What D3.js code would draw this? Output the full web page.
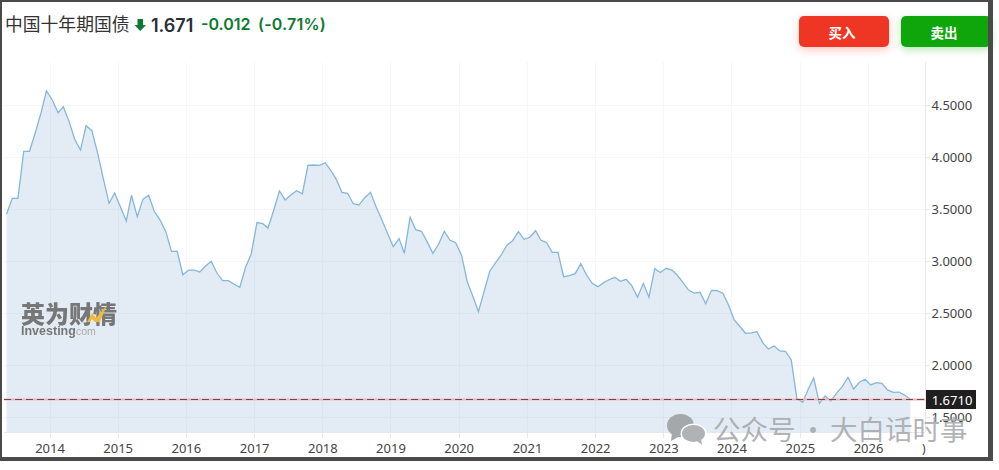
<!DOCTYPE html>
<html lang="zh-CN">
<head>
<meta charset="UTF-8">
<script src="https://d3js.org/d3.v7.min.js"></script>
<title>中国十年期国债</title>
<style>
  html, body { margin: 0; padding: 0; background: #fff; overflow: hidden; }
  svg { display: block; }
  .cn { font-family: "Noto Sans CJK SC", sans-serif; }
  .axis text { font-family: "Noto Sans", sans-serif; font-size: 13px; fill: #444; }
  .axis line, .axis path { stroke: #e6e8ec; fill: none; shape-rendering: crispEdges; }
</style>
</head>
<body>
<script>
var title = "中国十年期国债"
var lastPrice = "1.671"
var change = "-0.012"
var changePct = "(-0.71%)"
var buyLabel = "买入"
var sellLabel = "卖出"
var lastValue = 1.671
var firstMonth = new Date(2013, 4, 16)
var yearTicks = [2014, 2015, 2016, 2017, 2018, 2019, 2020, 2021, 2022, 2023, 2024, 2025, 2026]
var yTicks = [1.5, 2, 2.5, 3, 3.5, 4, 4.5]
// monthly yield
var values = [
  3.452, 3.603, 3.603, 4.055, 4.055, 4.228, 4.42, 4.635, 4.548, 4.426, 4.484, 4.34, 4.17, 4.067, 4.30, 4.253,
  4.035, 3.795, 3.555, 3.654, 3.52, 3.385, 3.632, 3.426, 3.593, 3.632, 3.478, 3.394, 3.282, 3.093, 3.093, 2.868,
  2.913, 2.913, 2.894, 2.952, 2.997, 2.882, 2.811, 2.811, 2.776, 2.747, 2.94, 3.067, 3.369, 3.359, 3.317, 3.49,
  3.673, 3.587, 3.635, 3.676, 3.647, 3.92, 3.923, 3.92, 3.945, 3.868, 3.788, 3.66, 3.651, 3.551, 3.538, 3.609,
  3.66, 3.522, 3.394, 3.266, 3.138, 3.215, 3.074, 3.42, 3.301, 3.286, 3.186, 3.074, 3.163, 3.286, 3.199, 3.176,
  3.058, 2.801, 2.666, 2.513, 2.705, 2.904, 2.981, 3.058, 3.154, 3.195, 3.282, 3.209, 3.228, 3.291, 3.202, 3.176,
  3.083, 3.083, 2.849, 2.859, 2.878, 2.974, 2.865, 2.785, 2.753, 2.792, 2.82, 2.843, 2.805, 2.824, 2.763, 2.651,
  2.785, 2.651, 2.926, 2.89, 2.93, 2.913, 2.865, 2.795, 2.721, 2.692, 2.699, 2.59, 2.718, 2.715, 2.69, 2.577,
  2.433, 2.368, 2.305, 2.308, 2.32, 2.215, 2.154, 2.183, 2.135, 2.132, 2.048, 1.68, 1.641, 1.772, 1.875, 1.632,
  1.702, 1.654, 1.728, 1.792, 1.882, 1.769, 1.834, 1.863, 1.808, 1.83, 1.824, 1.76, 1.737, 1.74, 1.711, 1.671
]

var width = 999
var height = 470
var plotTop = 62
var plotBottom = 432
var plotLeft = 4
var plotRight = 925

var svg = d3.select("body").append("svg")
  .attr("width", width)
  .attr("height", height)

var defs = svg.append("defs")
var blur = defs.append("filter").attr("id", "btnShadow")
  .attr("x", "-20%").attr("y", "-30%").attr("width", "140%").attr("height", "180%")
blur.append("feGaussianBlur").attr("stdDeviation", 4)
defs.append("filter").attr("id", "soft")
  .append("feGaussianBlur").attr("stdDeviation", 0.45)

var data = values.map(function (v, i) {
  return { date: d3.timeMonth.offset(firstMonth, i), value: v }
})

var xScale = d3.scaleTime()
  .domain([new Date(2014, 0, 1), new Date(2026, 0, 1)])
  .range([49.5, 868])
var yScale = d3.scaleLinear()
  .domain([1.5, 4.5])
  .range([417, 105])

// grid
svg.append("g").selectAll("line").data(yearTicks).enter().append("line")
  .attr("x1", function (d) { return Math.round(xScale(new Date(d, 0, 1))) + 0.5 })
  .attr("x2", function (d) { return Math.round(xScale(new Date(d, 0, 1))) + 0.5 })
  .attr("y1", plotTop).attr("y2", plotBottom)
  .attr("stroke", "#f6f7f8")
svg.append("g").selectAll("line").data(yTicks).enter().append("line")
  .attr("x1", plotLeft).attr("x2", plotRight)
  .attr("y1", function (d) { return Math.round(yScale(d)) + 0.5 })
  .attr("y2", function (d) { return Math.round(yScale(d)) + 0.5 })
  .attr("stroke", "#f6f7f8")

// area + line
var area = d3.area()
  .x(function (d) { return xScale(d.date) })
  .y0(plotBottom)
  .y1(function (d) { return yScale(d.value) })
var line = d3.line()
  .x(function (d) { return xScale(d.date) })
  .y(function (d) { return yScale(d.value) })

svg.append("path").datum(data)
  .attr("d", area)
  .attr("fill", "#5b8fc0")
  .attr("fill-opacity", 0.17)
svg.append("path").datum(data)
  .attr("d", line)
  .attr("fill", "none")
  .attr("stroke", "#85b6dc")
  .attr("stroke-width", 1.3)

// axes
var xAxis = d3.axisBottom(xScale)
  .tickValues(yearTicks.map(function (y) { return new Date(y, 0, 1) }))
  .tickFormat(d3.timeFormat("%Y"))
  .tickSize(5)
  .tickPadding(6)
var yAxis = d3.axisRight(yScale)
  .tickValues(yTicks)
  .tickFormat(d3.format(".4f"))
  .tickSize(4)
  .tickPadding(2)

var xAxisG = svg.append("g").attr("class", "axis")
  .attr("transform", "translate(0," + (plotBottom + 0.5) + ")")
  .call(xAxis)
xAxisG.select(".domain").attr("d", "M" + plotLeft + ",0H" + plotRight)

var yAxisG = svg.append("g").attr("class", "axis")
  .attr("transform", "translate(" + (plotRight + 0.5) + ",0)")
  .call(yAxis)
yAxisG.select(".domain").attr("d", "M0," + plotTop + "V" + plotBottom)

// cropped label at the far right of the time axis
svg.append("text")
  .attr("x", 922).attr("y", 453)
  .attr("font-family", "Noto Sans, sans-serif")
  .attr("font-size", 12)
  .attr("fill", "#444")
  .text(")")

// last price line
var lastY = Math.round(yScale(lastValue)) + 0.5
svg.append("line")
  .attr("x1", plotLeft).attr("x2", plotRight)
  .attr("y1", lastY).attr("y2", lastY)
  .attr("stroke", "#f3b4b8").attr("stroke-width", 2)
svg.append("line")
  .attr("x1", plotLeft).attr("x2", plotRight)
  .attr("y1", lastY).attr("y2", lastY)
  .attr("stroke", "#6e4a50").attr("stroke-width", 1)
  .attr("stroke-dasharray", "7,4")

svg.append("rect")
  .attr("x", 926).attr("y", lastY - 9.5).attr("width", 50).attr("height", 19)
  .attr("fill", "#1f1f1f")
svg.append("text")
  .attr("x", 952).attr("y", lastY + 5)
  .attr("text-anchor", "middle")
  .attr("font-family", "Noto Sans, sans-serif")
  .attr("font-size", 13)
  .attr("fill", "#fff")
  .text(d3.format(".4f")(lastValue))

// header
svg.append("text").attr("class", "cn")
  .attr("x", 5).attr("y", 31)
  .attr("font-size", 17.8)
  .attr("fill", "#333")
  .text(title)
svg.append("path")
  .attr("d", "M137.5,19H143V25H146L140.2,31L134.5,25H137.5Z")
  .attr("fill", "#0a7a2f")
svg.append("text")
  .attr("x", 151).attr("y", 32)
  .attr("font-family", "Inter, sans-serif")
  .attr("font-size", 18)
  .attr("font-weight", 600)
  .attr("fill", "#2a2e39")
  .text(lastPrice)
svg.append("text")
  .attr("x", 201).attr("y", 30)
  .attr("font-family", "Inter, sans-serif")
  .attr("font-size", 16)
  .attr("font-weight", 600)
  .attr("fill", "#0a7a2f")
  .text(change)
svg.append("text")
  .attr("x", 258).attr("y", 30)
  .attr("font-family", "Inter, sans-serif")
  .attr("font-size", 16)
  .attr("font-weight", 600)
  .attr("letter-spacing", 0.2)
  .attr("fill", "#0a7a2f")
  .text(changePct)

// buttons
function button(x, w, color, label) {
  svg.append("rect")
    .attr("x", x).attr("y", 19).attr("width", w).attr("height", 31).attr("rx", 5)
    .attr("fill", color).attr("fill-opacity", 0.28)
    .attr("filter", "url(#btnShadow)")
  svg.append("rect")
    .attr("x", x).attr("y", 16).attr("width", w).attr("height", 31).attr("rx", 5)
    .attr("fill", color)
  svg.append("text").attr("class", "cn")
    .attr("x", x + 43).attr("y", 38)
    .attr("text-anchor", "middle")
    .attr("font-size", 13.5)
    .attr("font-weight", 700)
    .attr("fill", "#fff")
    .text(label)
}
button(799, 90, "#ef3524", buyLabel)
button(901, 90, "#0ea60a", sellLabel)

// logo watermark
var logo = svg.append("g").attr("fill", "#777").attr("filter", "url(#soft)")
logo.append("text").attr("class", "cn")
  .attr("x", 21).attr("y", 323)
  .attr("font-size", 24)
  .attr("font-weight", 900)
  .attr("textLength", 96)
  .attr("lengthAdjust", "spacingAndGlyphs")
  .text("英为财情")
logo.append("path")
  .attr("d", "M87,322L92,313L96,318L107,305L100,322L95,322L92,319L90,322Z")
  .attr("fill", "#f0b93a")
logo.append("text")
  .attr("x", 21).attr("y", 335)
  .attr("font-family", "Liberation Sans, sans-serif")
  .attr("font-size", 12.5)
  .attr("font-weight", 700)
  .text("Investing")
logo.append("text")
  .attr("x", 73).attr("y", 335)
  .attr("font-family", "Liberation Sans, sans-serif")
  .attr("font-size", 10.5)
  .attr("fill", "#aaa")
  .text(".com")

// wechat watermark
var wm = svg.append("g")
wm.append("ellipse").attr("cx", 680.5).attr("cy", 425.5).attr("rx", 13.5).attr("ry", 11.5).attr("fill", "#a4a8ab")
wm.append("path").attr("d", "M672,433L671,441L680,436Z").attr("fill", "#a4a8ab")
wm.append("ellipse").attr("cx", 693.5).attr("cy", 433.5).attr("rx", 13).attr("ry", 10).attr("fill", "#fff")
wm.append("ellipse").attr("cx", 693.5).attr("cy", 433.5).attr("rx", 11.5).attr("ry", 8.5).attr("fill", "#b0b3b5")
wm.append("path").attr("d", "M697,441L702,445L701,438Z").attr("fill", "#b0b3b5")
var wmText = wm.append("g").attr("class", "cn")
  .attr("font-size", 27.5)
  .attr("fill", "#a6a9ac")
  .attr("fill-opacity", 0.9)
wmText.append("text").attr("x", 713).attr("y", 440).text("公众号")
wmText.append("text").attr("x", 813).attr("y", 440).attr("text-anchor", "middle").text("·")
wmText.append("text").attr("x", 830).attr("y", 440).text("大白话时事")

// screenshot frame
svg.append("rect").attr("x", 0).attr("y", 0).attr("width", 992).attr("height", 2).attr("fill", "#4a4a4a")
svg.append("rect").attr("x", 0).attr("y", 0).attr("width", 2).attr("height", 461).attr("fill", "#4a4a4a")
svg.append("rect").attr("x", 988).attr("y", 0).attr("width", 5).attr("height", 461).attr("fill", "#4a4a4a")
svg.append("rect").attr("x", 0).attr("y", 457).attr("width", 993).attr("height", 4).attr("fill", "#4a4a4a")
</script>
</body>
</html>
